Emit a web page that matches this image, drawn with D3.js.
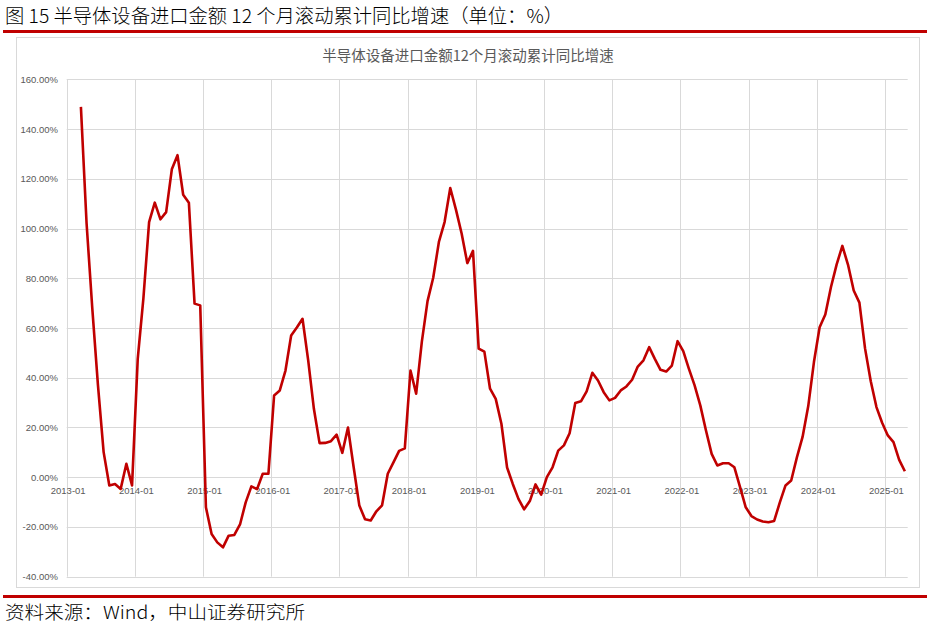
<!DOCTYPE html>
<html>
<head>
<meta charset="utf-8">
<script src="https://cdn.jsdelivr.net/npm/d3@7"></script>
<style>
  html, body { margin: 0; padding: 0; background: #fff; }
  svg { display: block; }
</style>
</head>
<body>
<svg id="chart" width="932" height="628"></svg>
<script>
// ---- data ----
const pageTitle = "图 15 半导体设备进口金额 12 个月滚动累计同比增速（单位：%）";
const chartTitle = "半导体设备进口金额12个月滚动累计同比增速";
const sourceText = "资料来源：Wind，中山证券研究所";

const firstMonth = "2013-01";   // first category on the axis
const lastMonth = "2025-04";    // last category on the axis
const dataStart = "2013-03";    // first month with a value

const xTickLabels = ["2013-01","2014-01","2015-01","2016-01","2017-01","2018-01","2019-01",
                     "2020-01","2021-01","2022-01","2023-01","2024-01","2025-01"];
const yTicks = [-40, -20, 0, 20, 40, 60, 80, 100, 120, 140, 160];

const values2013 = [148.9, 102, 68, 37, 10.1, -3.3, -2.7, -4.7, 5.4, -3.3];
const values2014 = [47.6, 72, 102.6, 110.4, 103.7, 106.6, 123.8, 129.5, 113.6, 110.4, 69.8, 69.1];
const values2015 = [-12.1, -22.8, -26.2, -28.2, -23.5, -23.2, -19.0, -10.1, -3.7, -4.8, 1.4, 1.4];
const values2016 = [32.9, 34.9, 42.9, 57.0, 60.2, 63.7, 47.0, 27.5, 13.7, 13.8, 14.5, 17.1];
const values2017 = [9.8, 20.0, 4.0, -11.4, -16.9, -17.4, -13.7, -11.3, 1.4, 6.0, 10.6, 11.6];
const values2018 = [42.9, 33.6, 54.5, 70.8, 80.2, 94.6, 102.6, 116.3, 107.6, 98.0, 86.1, 91.0];
const values2019 = [51.7, 50.5, 35.6, 31.5, 21.5, 3.9, -2.7, -8.7, -12.9, -9.6, -2.9, -7.0];
const values2020 = [0.0, 4.0, 10.7, 12.8, 17.7, 29.8, 30.5, 34.5, 42.0, 38.9, 34.2, 30.9];
const values2021 = [31.9, 34.9, 36.5, 39.2, 44.5, 47.0, 52.3, 47.6, 43.2, 42.5, 44.9, 54.7];
const values2022 = [50.7, 43.6, 36.9, 28.9, 18.8, 9.4, 4.7, 5.6, 5.6, 4.0, -4.0, -12.1];
const values2023 = [-15.6, -17.0, -17.8, -18.1, -17.6, -10.1, -3.3, -1.3, 8.0, 16.2, 28.6, 46.3];
const values2024 = [60.3, 65.4, 76.5, 85.6, 93.0, 85.4, 75.1, 70.2, 51.7, 38.6, 28.2, 21.9];
const values2025 = [16.8, 14.1, 7.0, 2.4];

// ---- build ----
const fmt = d3.timeFormat("%Y-%m");
const parse = d3.timeParse("%Y-%m");
const months = d3.timeMonth.range(parse(firstMonth), d3.timeMonth.offset(parse(lastMonth), 1)).map(fmt);
const allValues = [].concat(values2013, values2014, values2015, values2016, values2017, values2018,
  values2019, values2020, values2021, values2022, values2023, values2024, values2025);
const startIdx = months.indexOf(dataStart);
const series = allValues.map((v, i) => ({ month: months[startIdx + i], value: v }));

const svg = d3.select("#chart");
const plot = { left: 66.7, right: 907.7, top: 79.3, bottom: 576.7 };

const x = d3.scaleBand().domain(months).range([plot.left, plot.right]).paddingInner(0).paddingOuter(0);
const y = d3.scaleLinear().domain([-40, 160]).range([plot.bottom, plot.top]);

const cjk = "'Noto Sans CJK SC', 'Noto Sans', sans-serif";
const latin = "'Liberation Sans', Arial, sans-serif";

// page title
svg.append("text")
  .attr("x", 5).attr("y", 23)
  .attr("font-family", cjk).attr("font-size", 19).attr("font-weight", 300).attr("fill", "#000")
  .attr("textLength", 558).attr("lengthAdjust", "spacingAndGlyphs")
  .text(pageTitle);

// red rules
svg.append("rect").attr("x", 3).attr("y", 30).attr("width", 924).attr("height", 3).attr("fill", "#c00000");
svg.append("rect").attr("x", 3).attr("y", 595).attr("width", 924).attr("height", 3).attr("fill", "#c00000");

// chart frame
svg.append("rect")
  .attr("x", 16.5).attr("y", 37.5).attr("width", 903).attr("height", 550)
  .attr("fill", "#fff").attr("stroke", "#d9d9d9").attr("stroke-width", 1);

// chart title
svg.append("text")
  .attr("x", 468).attr("y", 61)
  .attr("text-anchor", "middle")
  .attr("font-family", cjk).attr("font-size", 14.5).attr("fill", "#595959")
  .text(chartTitle);

// horizontal gridlines
svg.append("g").selectAll("line").data(yTicks).join("line")
  .attr("x1", plot.left).attr("x2", plot.right)
  .attr("y1", d => Math.round(y(d)) + 0.5).attr("y2", d => Math.round(y(d)) + 0.5)
  .attr("stroke", "#d9d9d9").attr("stroke-width", 1);

// vertical gridlines at each year
svg.append("g").selectAll("line").data(xTickLabels).join("line")
  .attr("x1", d => Math.round(x(d)) + 0.5).attr("x2", d => Math.round(x(d)) + 0.5)
  .attr("y1", plot.top).attr("y2", plot.bottom)
  .attr("stroke", "#d9d9d9").attr("stroke-width", 1);

// y labels
svg.append("g").selectAll("text").data(yTicks).join("text")
  .attr("x", 58).attr("y", d => y(d) + 3.5)
  .attr("text-anchor", "end")
  .attr("font-family", latin).attr("font-size", 9.5).attr("fill", "#595959")
  .text(d => d.toFixed(2) + "%");

// x labels (axis crosses at 0)
svg.append("g").selectAll("text").data(xTickLabels).join("text")
  .attr("x", d => x(d) + 1.5).attr("y", y(0) + 17)
  .attr("text-anchor", "middle")
  .attr("font-family", latin).attr("font-size", 9.5).attr("fill", "#595959")
  .text(d => d);

// line
const line = d3.line()
  .x(d => x(d.month) + x.bandwidth() / 2)
  .y(d => y(d.value));
svg.append("path").datum(series)
  .attr("d", line)
  .attr("fill", "none").attr("stroke", "#c00000").attr("stroke-width", 2.6)
  .attr("stroke-linejoin", "round");

// source
svg.append("text")
  .attr("x", 5).attr("y", 619)
  .attr("font-family", cjk).attr("font-size", 18).attr("font-weight", 300).attr("fill", "#000")
  .attr("textLength", 300).attr("lengthAdjust", "spacingAndGlyphs")
  .text(sourceText);
</script>
</body>
</html>
